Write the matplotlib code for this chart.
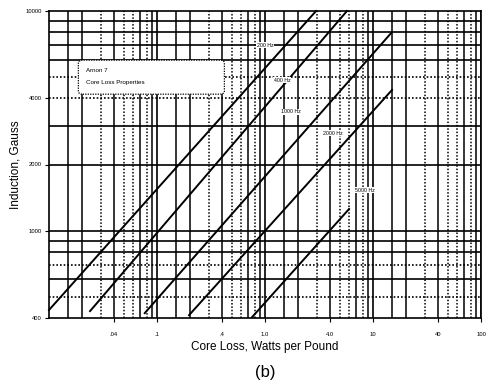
import matplotlib
matplotlib.use("Agg")
import matplotlib.pyplot as plt
from matplotlib.patches import FancyBboxPatch
import numpy as np

# ---- data ----
freq_labels = ["200 Hz", "400 Hz", "1000 Hz", "2000 Hz", "5000 Hz"]
loss_start = [0.010, 0.024, 0.077, 0.198, 0.76]
ind_start = [435, 430, 421, 412, 404]
loss_end = [2.97, 5.74, 15.0, 15.0, 6.0]
ind_end = [10000, 10000, 8020, 4370, 1254]
label_pos_x = [1.0, 1.44, 1.74, 4.27, 8.4]
label_pos_y = [7000, 4850, 3470, 2780, 1530]

xtick_vals = [0.04, 0.1, 0.4, 1.0, 4.0, 10, 40, 100]
xtick_labels = [".04", ".1", ".4", "1.0", "4.0", "10", "40", "100"]
ytick_vals = [400, 1000, 2000, 4000, 10000]
ytick_labels = ["400", "1000", "2000", "4000", "10000"]

vgrid_solid_mult = [1.5, 2, 4, 7, 9]
vgrid_dot_mult = [3, 5, 6, 8]
hgrid_solid = [600, 800, 900, 1000, 2000, 3000, 6000, 7000, 8000, 9000]
hgrid_dot = [500, 700, 4000, 5000]

W, H = 489, 389
fig = plt.figure(figsize=(W / 100, H / 100), dpi=100)
fig.patch.set_facecolor("white")
ax = fig.add_axes([49 / W, 1 - 318 / H, (481 - 49) / W, (318 - 11) / H])
ax.set_xscale("log")
ax.set_yscale("log")
ax.set_xlim(0.01, 100)
ax.set_ylim(400, 10000)

# grid
for dec in [0.01, 0.1, 1, 10]:
    for m in vgrid_solid_mult:
        ax.axvline(dec * m, color="black", lw=1.1, zorder=1)
    for m in vgrid_dot_mult:
        ax.axvline(dec * m, color="black", lw=1.1, ls=(0, (1, 1.2)), zorder=1)
    ax.axvline(dec * 10, color="black", lw=1.2, zorder=1)
for v in hgrid_solid:
    ax.axhline(v, color="black", lw=1.2, zorder=1)
for v in hgrid_dot:
    ax.axhline(v, color="black", lw=1.2, ls=(0, (1, 1.2)), zorder=1)

# curves
for i in range(len(freq_labels)):
    ax.plot([loss_start[i], loss_end[i]], [ind_start[i], ind_end[i]],
            color="black", lw=1.4, zorder=3, clip_on=False)
    ax.text(label_pos_x[i], label_pos_y[i], freq_labels[i], fontsize=3.8,
            family="Liberation Sans", ha="center", va="center", zorder=4,
            bbox=dict(facecolor="white", edgecolor="none", pad=0.3))

# annotation box
box = FancyBboxPatch((0.072, 0.733), 0.33, 0.103, boxstyle="round,pad=0.004,rounding_size=0.01",
                     transform=ax.transAxes, facecolor="white", edgecolor="black",
                     lw=0.9, ls=(0, (1, 1)), zorder=5)
ax.add_patch(box)
ax.text(0.085, 0.805, "Arnon 7", transform=ax.transAxes, fontsize=4.5,
        family="Liberation Sans", va="center", zorder=6)
ax.text(0.085, 0.768, "Core Loss Properties", transform=ax.transAxes, fontsize=4.5,
        family="Liberation Sans", va="center", zorder=6)

ax.set_xticks(xtick_vals)
ax.set_xticklabels(xtick_labels)
ax.set_yticks(ytick_vals)
ax.set_yticklabels(ytick_labels)
ax.minorticks_off()
ax.tick_params(axis="both", labelsize=4.2, length=3, width=0.8, direction="out")
ax.tick_params(axis="x", pad=7)
ax.tick_params(axis="y", pad=2)
for lab in ax.get_xticklabels() + ax.get_yticklabels():
    lab.set_family("Liberation Sans")

for s in ax.spines.values():
    s.set_linewidth(1.2)
    s.set_color("black")

ax.set_xlabel("Core Loss, Watts per Pound", fontsize=8.5, family="Liberation Sans", labelpad=3)
ax.set_ylabel("Induction, Gauss", fontsize=8.5, family="Liberation Sans", labelpad=3)

fig.text(265 / W, 1 - 373 / H, "(b)", fontsize=12, family="Liberation Sans",
         ha="center", va="center")

fig.savefig("out.png", dpi=100, facecolor="white")
